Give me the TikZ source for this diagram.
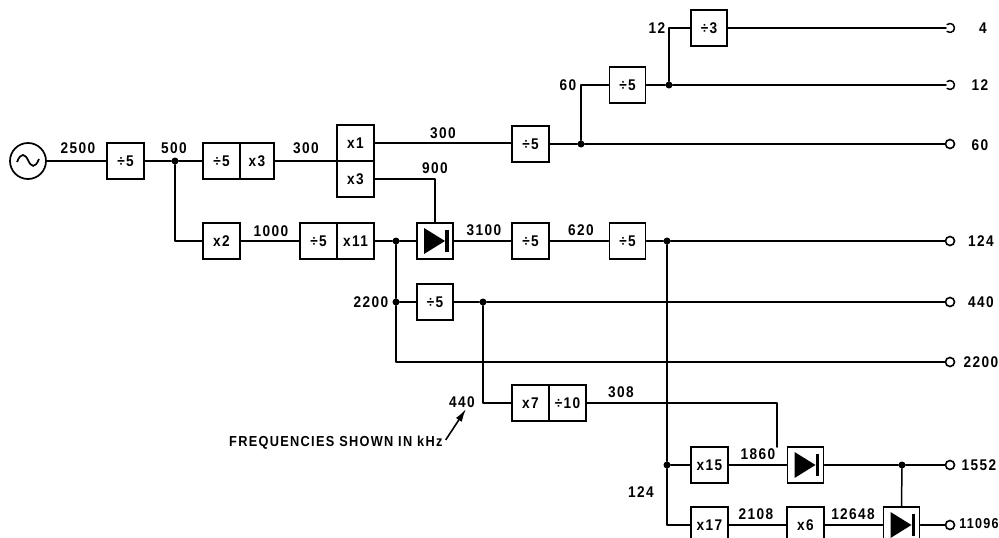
\documentclass[tikz,border=0pt]{standalone}
\usepackage{fontspec}
\setmainfont[LetterSpace=9,FakeStretch=0.88]{Liberation Sans}
\usetikzlibrary{arrows.meta,calc}
\tikzset{
  wire/.style={line width=1.5pt,line cap=round,line join=round},
  blk/.style={draw,line width=1.9pt,rectangle,inner sep=0pt,minimum width=#1,minimum height=36,font=\fontsize{15.5}{15.5}\selectfont\bfseries},
  blk/.default=36,
  jn/.style={circle,fill=black,inner sep=0pt,minimum size=7},
  outp/.style={circle,draw,fill=white,line width=1.6pt,inner sep=0pt,minimum size=9},
  lab/.style={inner sep=0pt,font=\fontsize{15.5}{16}\selectfont\bfseries},
  mix/.style={blk,minimum width=36}
}
\newcommand{\diode}[1]{%
  \fill (#1.center) ++(-11,-13) -- ++(21,13) -- ++(-21,13) -- cycle;
  \fill (#1.center) ++(10,-11) rectangle ++(3.5,22);
}
\begin{document}
\begin{tikzpicture}[x=1pt,y=-1pt]
\useasboundingbox (0,0) rectangle (999,538);
\clip (0,0) rectangle (999,538);
% source and blocks
\node[circle,draw,line width=1.7pt,minimum size=36,inner sep=0pt] (osc) at (28,161) {};
\draw[line width=1.7pt] (17,162) .. controls (21,152) and (25,154) .. (28,160) .. controls (31,167) and (35,169) .. (39,159);
\node[blk=37] (d1) at (125.5,161) {÷5};
\node[blk=37] (d2) at (221.5,161) {÷5};
\node[blk=34] (m3) at (257,161) {x3};
\node[blk=37] (x1) at (355.5,143) {x1};
\node[blk=37] (x3) at (355.5,179) {x3};
\node[blk=37] (x2) at (221.5,241) {x2};
\node[blk=37] (d3) at (318.5,241) {÷5};
\node[blk=37] (x11) at (355.5,241) {x11};
\node[mix] (mx1) at (435,241) {};
\node[blk=37] (d4) at (530.5,241) {÷5};
\node[blk=36] (d5) at (627.5,241) {÷5};
\node[blk=37] (d6) at (530.5,144) {÷5};
\node[blk=36] (d7) at (627.5,85) {÷5};
\node[blk=36] (d8) at (709,28) {÷3};
\node[blk=36] (d9) at (435,302) {÷5};
\node[blk=37] (x7) at (530.5,403) {x7};
\node[blk=37] (d10) at (567.5,403) {÷10};
\node[blk=37] (x15) at (709.5,465) {x15};
\node[mix] (mx2) at (805.5,465) {};
\node[blk=37] (x17) at (709.5,525) {x17};
\node[blk=37] (x6) at (805.5,525) {x6};
\node[mix] (mx3) at (901.5,525) {};
\diode{mx1}\diode{mx2}\diode{mx3}
% junctions
\node[jn] (j500) at (175,161) {};
\node[jn] (j22a) at (396,241) {};
\node[jn] (j22b) at (396,302) {};
\node[jn] (j124) at (667,241) {};
\node[jn] (j60) at (581,144) {};
\node[jn] (j12) at (669,85) {};
\node[jn] (j440) at (483,302) {};
\node[jn] (jb) at (667,465) {};
\node[jn] (j1552) at (902,465) {};
% outputs
\coordinate (o4) at (950,28);
\coordinate (o12) at (950,85);
\node[outp] (o60) at (950,144) {};
\node[outp] (o124) at (950,241) {};
\node[outp] (o440) at (950,302) {};
\node[outp] (o2200) at (950,362) {};
\node[outp] (o1552) at (950,465) {};
\node[outp] (o11096) at (950,525) {};
\coordinate (c1) at (581,85);
\coordinate (c2) at (669,28);
\coordinate (c308) at (777,447);
\coordinate (e4) at (946,28);
\coordinate (e12) at (946,85);
% wires
\draw[wire] (osc.east) -- (d1.west);
\draw[wire] (d1.east) -- (j500) -- (d2.west);
\draw[wire] (j500) |- (x2.west);
\draw[wire] (m3.east) -- (m3.east -| x1.west);
\draw[wire] (x2.east) -- (d3.west);
\draw[wire] (x11.east) -- (j22a) -- (mx1.west);
\draw[wire] (x1.east) -- (x1.east -| d6.west);
\draw[wire] (x3.east) -| (mx1.north);
\draw[wire] (mx1.east) -- (d4.west);
\draw[wire] (d4.east) -- (d5.west);
\draw[wire] (d5.east) -- (j124) -- (o124.west);
\draw[wire] (d6.east) -- (j60) -- (o60.west);
\draw[wire] (j60) -- (c1) -- (d7.west);
\draw[wire] (d7.east) -- (j12) -- (e12);
\draw[wire] (j12) -- (c2) -- (d8.west);
\draw[wire] (d8.east) -- (e4);
\draw[wire] ([shift={(130:4.5)}]o4) arc[start angle=130,end angle=-130,radius=4.5];
\draw[wire] ([shift={(130:4.5)}]o12) arc[start angle=130,end angle=-130,radius=4.5];
\draw[wire] (j22a) -- (j22b);
\draw[wire] (j22b) -- (d9.west);
\draw[wire] (d9.east) -- (j440) -- (o440.west);
\draw[wire] (j22b) |- (o2200.west);
\draw[wire] (j440) |- (x7.west);
\draw[wire] (d10.east) -| (c308);
\draw[wire] (j124) -- (jb);
\draw[wire] (jb) -- (x15.west);
\draw[wire] (jb) |- (x17.west);
\draw[wire] (x15.east) -- (mx2.west);
\draw[wire] (mx2.east) -- (j1552) -- (o1552.west);
\draw[wire] (j1552) -- (mx3.north);
\draw[wire] (x17.east) -- (x6.west);
\draw[wire] (x6.east) -- (mx3.west);
\draw[wire] (mx3.east) -- (o11096.west);
% labels
\node[lab] (l1) at (78,148) {2500};
\node[lab] at (174,148) {500};
\node[lab] at (306,148) {300};
\node[lab] at (271,231) {1000};
\node[lab] at (443,133) {300};
\node[lab] at (435,168) {900};
\node[lab] at (484,230) {3100};
\node[lab] at (581,230) {620};
\node[lab] at (568,85) {60};
\node[lab] at (657,28) {12};
\node[lab] at (371,302) {2200};
\node[lab] at (462,402) {440};
\node[lab] at (621,392) {308};
\node[lab] at (641,492) {124};
\node[lab] at (758,454) {1860};
\node[lab] at (756,514) {2108};
\node[lab] at (853,514) {12648};
\node[lab] at (983,28) {4};
\node[lab] at (980,85) {12};
\node[lab] at (980,145) {60};
\node[lab] at (981,241) {124};
\node[lab] at (981,302) {440};
\node[lab] at (981,362) {2200};
\node[lab] at (979,465) {1552};
\node[lab,font=\fontsize{14.3}{15}\selectfont\bfseries] at (979,524) {11096};
\node[lab,anchor=west,font=\fontsize{14.5}{15}\selectfont\bfseries] (note) at (229,443) {FREQUENCIES SHOWN IN kHz};
\coordinate (tip) at (466,409);
\draw[line width=1.6pt,-{Latex[length=13pt,width=7pt]}] (note.east) ++(3,-3) -- (tip);
\end{tikzpicture}
\end{document}
